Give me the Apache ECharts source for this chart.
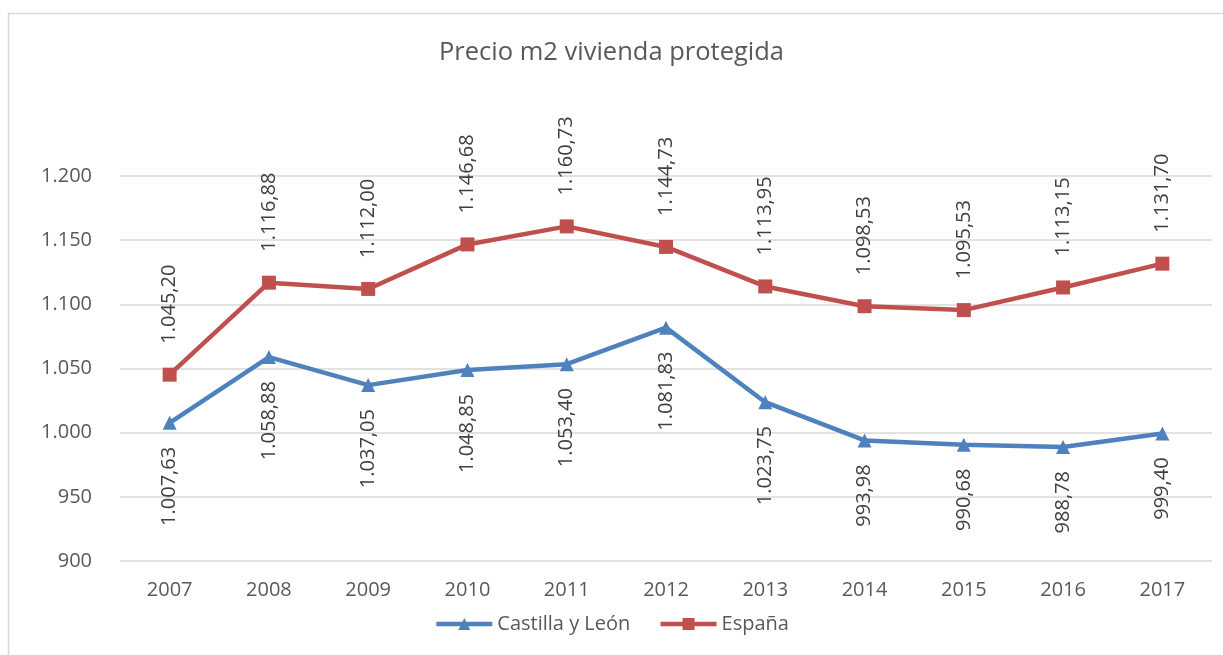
<!DOCTYPE html>
<html>
<head>
<meta charset="utf-8">
<script src="https://cdn.jsdelivr.net/npm/echarts@6/dist/echarts.min.js"></script>
<style>
  html, body { margin: 0; padding: 0; background: #fff; }
  #chart { width: 1223px; height: 655px; }
</style>
</head>
<body>
<div id="chart"></div>
<script>
// datos
const years = ['2007', '2008', '2009', '2010', '2011', '2012', '2013', '2014', '2015', '2016', '2017'];
const castillaLeon = [1007.63, 1058.88, 1037.05, 1048.85, 1053.40, 1081.83, 1023.75, 993.98, 990.68, 988.78, 999.40];
const espana = [1045.20, 1116.88, 1112.00, 1146.68, 1160.73, 1144.73, 1113.95, 1098.53, 1095.53, 1113.15, 1131.70];

const FONT = '"Open Sans", sans-serif';
const BLUE = '#4f81bd';
const RED = '#c0504d';

// formato es-ES: 1.045,20
function fmt(v, dec) {
  const parts = v.toFixed(dec).split('.');
  parts[0] = parts[0].replace(/\B(?=(\d{3})+(?!\d))/g, '.');
  return dec ? parts[0] + ',' + parts[1] : parts[0];
}

const chart = echarts.init(document.getElementById('chart'));

chart.setOption({
  animation: false,
  textStyle: { fontFamily: FONT },
  title: {
    text: 'Precio m2 vivienda protegida',
    left: 'center',
    top: 35,
    textStyle: { fontFamily: FONT, fontSize: 25.5, fontWeight: 'normal', color: '#595959' },
  },
  legend: {
    bottom: 16,
    left: 'center',
    itemWidth: 56,
    itemHeight: 15,
    itemGap: 28,
    lineStyle: { width: 4.5 },
    textStyle: { fontFamily: FONT, fontSize: 20, color: '#595959' },
    data: ['Castilla y León', 'España'],
  },
  graphic: [{
    type: 'rect',
    shape: { x: 8.5, y: 13.5, width: 1230, height: 660 },
    style: { fill: 'none', stroke: '#d9d9d9', lineWidth: 1.5 },
    silent: true,
  }],
  grid: { left: 120, right: 11, top: 176, bottom: 94 },
  xAxis: {
    type: 'category',
    data: years,
    boundaryGap: true,
    axisLine: { show: false },
    axisTick: { show: false },
    axisLabel: { fontFamily: FONT, fontSize: 20, color: '#595959', margin: 19 },
  },
  yAxis: {
    type: 'value',
    min: 900,
    max: 1200,
    interval: 50,
    axisLine: { show: false },
    axisTick: { show: false },
    splitLine: { lineStyle: { color: '#d9d9d9', width: 1.5 } },
    axisLabel: {
      fontFamily: FONT, fontSize: 20, color: '#595959', margin: 28,
      formatter: (v) => fmt(v, 0),
    },
  },
  series: [
    {
      name: 'Castilla y León',
      type: 'line',
      data: castillaLeon,
      symbol: 'triangle',
      symbolSize: 14,
      lineStyle: { color: BLUE, width: 4.5 },
      itemStyle: { color: BLUE },
      label: {
        show: true,
        position: 'bottom',
        distance: 17,
        rotate: 90,
        align: 'right',
        verticalAlign: 'middle',
        fontFamily: FONT,
        fontSize: 20,
        color: '#404040',
        formatter: (p) => fmt(p.value, 2),
      },
      z: 3,
    },
    {
      name: 'España',
      type: 'line',
      data: espana,
      symbol: 'rect',
      symbolSize: 14,
      lineStyle: { color: RED, width: 4.5 },
      itemStyle: { color: RED },
      label: {
        show: true,
        position: 'top',
        distance: 24,
        rotate: 90,
        align: 'left',
        verticalAlign: 'middle',
        fontFamily: FONT,
        fontSize: 20,
        color: '#404040',
        formatter: (p) => fmt(p.value, 2),
      },
      z: 3,
    },
  ],
});
</script>
</body>
</html>
